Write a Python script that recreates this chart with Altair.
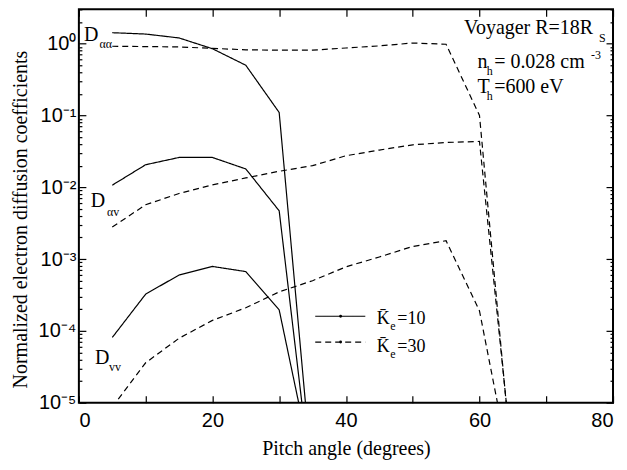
import altair as alt
import pandas as pd

# ---- data ----
angle_k10 = [5, 10, 15, 20, 25, 30, 35]
daa_k10 = [1.42, 1.36, 1.20, 0.85, 0.50, 0.11, 8e-7]
dav_k10 = [0.0107, 0.0206, 0.026, 0.026, 0.018, 0.0047, 5.5e-7]
dvv_k10 = [8.1e-5, 3.25e-4, 6.0e-4, 7.9e-4, 6.7e-4, 1.96e-4, 1.2e-6]

angle_k30 = [5, 10, 15, 20, 25, 30, 35, 40, 45, 50, 55, 60, 65]
daa_k30 = [0.92, 0.91, 0.90, 0.86, 0.82, 0.81, 0.81, 0.87, 0.93, 1.02, 0.98, 0.10, 1.0e-6]
dav_k30 = [0.0028, 0.0057, 0.0082, 0.0108, 0.0135, 0.0167, 0.020, 0.0275, 0.033, 0.039, 0.042, 0.0435, 1.3e-6]
dvv_k30 = [8.7e-6, 3.6e-5, 7.9e-5, 1.4e-4, 2.1e-4, 3.5e-4, 5.0e-4, 7.8e-4, 1.07e-3, 1.5e-3, 1.8e-3, 1.9e-4, 8e-7]

x_major = [0, 20, 40, 60, 80]
x_ticks = [0, 10, 20, 30, 40, 50, 60, 70, 80]
y_decades = [1e-5, 1e-4, 1e-3, 1e-2, 1e-1, 1e0]
y_minor = [m * 10.0 ** e for e in range(-5, 1) for m in range(2, 10) if m * 10.0 ** e <= 3]

rows = []
for ke, ang, vals, name in [
    ("10", angle_k10, daa_k10, "aa10"), ("10", angle_k10, dav_k10, "av10"), ("10", angle_k10, dvv_k10, "vv10"),
    ("30", angle_k30, daa_k30, "aa30"), ("30", angle_k30, dav_k30, "av30"), ("30", angle_k30, dvv_k30, "vv30"),
]:
    for a, v in zip(ang, vals):
        rows.append({"angle": a, "value": v, "ke": ke, "series": name})
df = pd.DataFrame(rows)

# annotations (data coordinates)
ann_text = ["D", "D", "D", "Voyager R=18R", "n", "= 0.028 cm", "T", "=600 eV",
            "K\u0304", "=10", "K\u0304", "=30"]
ann_x = [0.75, 1.76, 2.4, 57.7, 59.7, 62.2, 59.7, 62.2, 44.6, 47.7, 44.6, 47.7]
ann_y = [1.10, 0.00537, 3.47e-5, 1.377, 0.451, 0.451, 0.204, 0.204, 1.24e-4, 1.24e-4, 5.08e-5, 5.08e-5]
ann_size = [20, 20, 20, 20, 20, 20, 20, 20, 18, 18, 18, 18]

sub_text = ["\u03b1\u03b1", "\u03b1v", "vv", "S", "h", "-3", "h", "e", "e"]
sub_x = [3.1, 4.2, 4.5, 77.9, 61.1, 76.7, 61.1, 46.65, 46.65]
sub_y = [0.881, 0.00398, 2.75e-5, 1.067, 0.37, 0.62, 0.165, 1.02e-4, 4.2e-5]

leg_x = [35.4, 42.9, 35.4, 42.9]
leg_y = [1.60e-4, 1.60e-4, 7.0e-5, 7.0e-5]
leg_ke = ["10", "10", "30", "30"]
dot_x = [39.2, 39.2]
dot_y = [1.60e-4, 7.0e-5]

ann_df = pd.DataFrame({"tx": ann_x, "ty": ann_y, "label": ann_text, "fs": ann_size})
sub_df = pd.DataFrame({"tx": sub_x, "ty": sub_y, "label": sub_text})
leg_df = pd.DataFrame({"angle": leg_x, "value": leg_y, "ke": leg_ke})
dot_df = pd.DataFrame({"angle": dot_x, "value": dot_y})

x_scale = alt.Scale(domain=[0, 80], nice=False, zero=False)
y_scale = alt.Scale(type="log", domain=[1e-5, 3], nice=False)
dash = alt.StrokeDash("ke:N", scale=alt.Scale(domain=["10", "30"], range=[[1, 0], [6, 4]]), legend=None)

SERIF = "Liberation Serif, Times New Roman, Times, serif"
SANS = "Liberation Sans, Arial, sans-serif"

lines = alt.Chart(df).mark_line(color="black", strokeWidth=1.2, clip=True).encode(
    x=alt.X("angle:Q", scale=x_scale, axis=alt.Axis(
        orient="bottom", values=x_major, format="d", ticks=False, domain=False, grid=False,
        labelFont=SANS, labelFontSize=20, labelColor="black", labelPadding=8,
        title="Pitch angle (degrees)", titleFont=SERIF, titleFontSize=20,
        titleFontWeight="normal", titleColor="black", titlePadding=8)),
    y=alt.Y("value:Q", scale=y_scale, axis=alt.Axis(
        orient="left", values=y_decades, ticks=False, domain=False, grid=False,
        labelExpr="'10' + ['\u2070','\u207b\u00b9','\u207b\u00b2','\u207b\u00b3','\u207b\u2074','\u207b\u2075'][-round(log(datum.value)/LN10)]",
        labelFont=SANS, labelFontSize=20, labelColor="black", labelPadding=3,
        title="Normalized electron diffusion coefficients", titleFont=SERIF, titleFontSize=20,
        titleFontWeight="normal", titleColor="black", titlePadding=8, titleY=210)),
    strokeDash=dash,
    detail="series:N",
)


def tick_layer(xaxis, yaxis):
    enc = {}
    enc["x"] = alt.X("angle:Q", scale=x_scale, axis=xaxis)
    enc["y"] = alt.Y("value:Q", scale=y_scale, axis=yaxis)
    return alt.Chart(df).mark_point(opacity=0, clip=True).encode(**enc)


def tick_axis(orient, values, size, offset):
    return alt.Axis(orient=orient, values=values, tickSize=size, offset=offset, tickWidth=1.2,
                    tickColor="black", labels=False, domain=False, grid=False, title=None)


t1 = tick_layer(tick_axis("bottom", x_ticks, 7, -7), tick_axis("left", y_decades, 7, -7))
t2 = tick_layer(tick_axis("top", x_ticks, 7, -7), tick_axis("right", y_decades, 7, -7))
t3 = tick_layer(None, tick_axis("left", y_minor, 3, -3))
t4 = tick_layer(None, tick_axis("right", y_minor, 3, -3))

ann = alt.Chart(ann_df).mark_text(font=SERIF, align="left", baseline="alphabetic", color="black").encode(
    x=alt.X("tx:Q", scale=x_scale, axis=None),
    y=alt.Y("ty:Q", scale=y_scale, axis=None),
    text="label:N",
    size=alt.Size("fs:Q", scale=None),
)
subs = alt.Chart(sub_df).mark_text(font=SERIF, align="left", baseline="alphabetic", color="black", fontSize=12).encode(
    x=alt.X("tx:Q", scale=x_scale, axis=None),
    y=alt.Y("ty:Q", scale=y_scale, axis=None),
    text="label:N",
)
leg_lines = alt.Chart(leg_df).mark_line(color="black", strokeWidth=1.2).encode(
    x=alt.X("angle:Q", scale=x_scale, axis=None),
    y=alt.Y("value:Q", scale=y_scale, axis=None),
    strokeDash=dash,
    detail="ke:N",
)
leg_dots = alt.Chart(dot_df).mark_point(filled=True, color="black", size=8, opacity=1).encode(
    x=alt.X("angle:Q", scale=x_scale, axis=None),
    y=alt.Y("value:Q", scale=y_scale, axis=None),
)

chart = alt.layer(lines, t1, t2, t3, t4, ann, subs, leg_lines, leg_dots).resolve_axis(
    x="independent", y="independent"
).properties(
    width=535, height=394,
    padding={"left": 2, "top": 0, "right": 5, "bottom": 5},
    background="white",
).configure_view(stroke="black", strokeWidth=2)

chart.save("out.html", embed_options={"renderer": "svg", "actions": False})
